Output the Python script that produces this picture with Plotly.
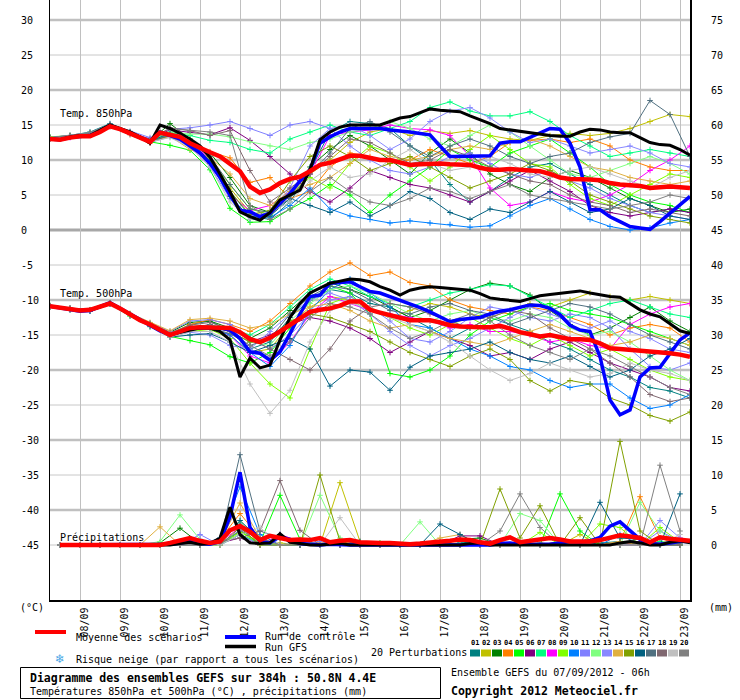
import plotly.graph_objects as go

# ---------------- time axes (hours after 07/09/2012 06h) ----------------
hours6 = list(range(0, 385, 6))      # main runs, 6-hourly
hours12 = list(range(0, 385, 12))    # perturbations, 12-hourly
hours_rr6 = list(range(6, 385, 6))   # precipitation main runs
hours_rr12 = list(range(6, 385, 12)) # precipitation perturbations

date_labels = ["08/09", "09/09", "10/09", "11/09", "12/09", "13/09", "14/09", "15/09",
               "16/09", "17/09", "18/09", "19/09", "20/09", "21/09", "22/09", "23/09"]
date_hours = [18 + 24 * k for k in range(16)]

left_ticks = [30, 25, 20, 15, 10, 5, 0, -5, -10, -15, -20, -25, -30, -35, -40, -45]
right_ticks = [75, 70, 65, 60, 55, 50, 45, 40, 35, 30, 25, 20, 15, 10, 5, 0]

# ---------------- main runs ----------------
mean_850 = [13.0, 12.9, 13.2, 13.4, 13.4, 14.0, 14.8, 14.4, 13.8, 13.2,
            12.6, 13.9, 13.6, 13.3, 12.4, 11.7, 11.1, 10.5, 9.4, 8.4,
            6.2, 5.3, 5.8, 6.7, 7.3, 7.6, 8.4, 9.3, 9.6, 10.1,
            10.6, 10.6, 10.3, 10.0, 10.0, 9.7, 9.3, 9.4, 9.5, 9.5,
            9.4, 9.4, 9.3, 8.9, 8.6, 8.6, 8.7, 8.6, 8.5, 8.4,
            8.0, 7.5, 7.3, 7.3, 7.2, 7.1, 6.7, 6.5, 6.4, 6.3,
            6.0, 6.1, 6.2, 6.1, 6.0]
gfs_850 = [13.0, 12.9, 13.3, 13.5, 13.5, 14.2, 15.0, 14.5, 14.0, 13.3,
           12.4, 15.0, 14.5, 13.8, 13.0, 12.0, 10.4, 8.0, 5.5, 2.6,
           1.9, 1.4, 2.5, 4.3, 5.0, 5.7, 8.6, 12.9, 14.0, 14.7,
           15.0, 15.0, 15.0, 15.0, 15.5, 16.0, 16.2, 16.8, 17.3, 17.1,
           17.0, 16.9, 16.3, 15.8, 15.2, 14.5, 14.3, 14.0, 13.8, 13.6,
           13.5, 13.4, 13.4, 14.0, 14.4, 14.3, 14.0, 13.9, 13.9, 13.2,
           12.5, 12.2, 12.1, 11.5, 10.7]
ctrl_850 = [13.0, 12.9, 13.2, 13.4, 13.5, 14.1, 14.9, 14.4, 13.8, 13.2,
            12.6, 14.0, 13.5, 13.0, 12.0, 11.0, 9.5, 7.5, 5.0, 2.8,
            2.6, 1.9, 2.4, 3.8, 5.2, 7.0, 8.6, 12.4, 13.3, 14.0,
            14.5, 14.5, 14.5, 14.5, 14.3, 14.2, 14.0, 13.8, 13.6, 12.0,
            10.5, 10.5, 10.5, 10.5, 10.6, 12.4, 12.6, 12.6, 13.2, 13.8,
            14.5, 14.4, 12.4, 9.0, 2.9, 2.9, 1.9, 1.2, 0.5, 0.3,
            0.1, 1.2, 2.4, 3.6, 4.8]

mean_500 = [-10.9, -11.1, -11.3, -11.5, -11.4, -11.0, -10.5, -11.2, -12.0, -12.9,
            -13.5, -14.2, -15.0, -14.5, -14.0, -13.9, -13.9, -13.9, -14.0, -14.6,
            -15.6, -16.0, -15.4, -14.5, -13.6, -12.7, -11.7, -11.4, -11.2, -10.8,
            -10.2, -10.2, -11.4, -11.8, -12.2, -12.6, -12.9, -12.9, -12.9, -13.2,
            -13.6, -13.8, -13.9, -13.9, -13.9, -13.7, -14.1, -14.6, -14.9, -15.2,
            -15.0, -15.3, -15.6, -15.6, -15.7, -16.2, -16.9, -17.0, -17.1, -17.2,
            -17.4, -17.5, -17.6, -17.8, -18.1]
gfs_500 = [-10.9, -11.1, -11.3, -11.5, -11.4, -11.0, -10.4, -11.2, -12.0, -12.9,
           -13.5, -14.3, -15.0, -14.6, -14.3, -14.0, -14.0, -14.5, -15.7, -21.0,
           -18.3, -19.7, -19.3, -15.7, -12.5, -10.5, -9.0, -8.3, -7.6, -7.3,
           -7.0, -7.1, -7.4, -8.1, -8.6, -9.3, -8.6, -8.3, -8.1, -8.2,
           -8.3, -8.4, -8.6, -9.1, -9.7, -9.9, -10.1, -10.2, -9.8, -9.4,
           -9.2, -9.0, -8.8, -8.7, -9.0, -9.3, -9.5, -9.6, -10.5, -11.4,
           -12.0, -12.4, -13.4, -14.4, -14.8]
ctrl_500 = [-10.9, -11.1, -11.4, -11.6, -11.5, -11.0, -10.4, -11.2, -12.0, -12.9,
            -13.6, -14.4, -15.0, -14.5, -14.1, -14.0, -14.0, -14.0, -14.3, -15.5,
            -17.4, -17.6, -18.6, -17.4, -14.8, -12.0, -9.5, -9.3, -7.6, -7.5,
            -7.4, -8.1, -8.8, -9.0, -9.5, -10.0, -10.5, -11.1, -11.7, -12.4,
            -13.1, -12.8, -12.6, -12.5, -12.0, -11.6, -11.4, -11.0, -10.7, -10.8,
            -11.2, -12.1, -13.6, -14.3, -14.5, -18.1, -24.3, -26.4, -25.7, -21.0,
            -19.7, -19.6, -17.6, -15.7, -14.7]

mean_rr = [0, 0, 0, 0, 0, 0, 0, 0, 0, 0,
           0, 0.3, 0.6, 1.0, 0.6, 0.3, 0.5, 2.1, 2.7, 1.9,
           0.7, 1.3, 1.0, 0.7, 0.8, 0.7, 1.0, 0.4, 0.6, 0.7,
           0.4, 0.3, 0.3, 0.3, 0.2, 0.1, 0.2, 0.3, 0.4, 0.6,
           0.8, 0.7, 0.4, 0.2, 0.7, 1.1, 0.4, 0.6, 0.8, 1.0,
           0.8, 0.5, 0.5, 0.5, 0.7, 1.0, 1.4, 1.2, 1.0, 0.4,
           1.1, 0.9, 0.7, 0.6]
ctrl_rr = [0, 0, 0, 0, 0, 0, 0, 0, 0, 0,
           0, 0.1, 0.3, 0.5, 0.2, 0.1, 0.5, 4.0, 10.4, 2.5,
           0.5, 0.3, 1.2, 0.8, 0.2, 0.1, 0, 0.1, 0, 0,
           0, 0, 0, 0, 0, 0, 0, 0, 0, 0,
           0, 0, 0, 0, 0.2, 0.3, 0.1, 0.1, 0.1, 0.1,
           0.3, 0.5, 0.4, 0.6, 1.1, 2.7, 3.3, 2.1, 0.8, 0.2,
           0.1, 0.3, 0.5, 0.5]
gfs_rr = [0, 0, 0, 0, 0, 0, 0, 0, 0, 0,
          0, 0, 0.2, 0.4, 0.1, 0.2, 1.0, 5.4, 1.5, 0.3,
          0.2, 0.3, 1.6, 0.4, 0.2, 0, 0, 0.1, 0.2, 0,
          0, 0, 0.1, 0, 0, 0, 0, 0, 0, 0,
          0, 0.2, 0.3, 0, 0, 0, 0, 0, 0, 0,
          0, 0, 0, 0, 0, 0, 0.3, 0.5, 0.3, 0,
          0, 0.4, 0.6, 0.3]

# ---------------- 20 perturbations ----------------
pert_names = ["01", "02", "03", "04", "05", "06", "07", "08", "09", "10",
              "11", "12", "13", "14", "15", "16", "17", "18", "19", "20"]
pert_colors = ["#008080", "#c0c000", "#008000", "#ff8000", "#00ff00", "#800080", "#00ff80",
               "#ff00ff", "#80ff00", "#0080ff", "#8080ff", "#80ff80", "#8888ff", "#e0b040",
               "#80a000", "#006080", "#507080", "#806870", "#c0c0c0", "#808080"]

t850_perts = [
    [13.2, 13.5, 14.0, 15.2, 14.0, 12.8, 14.0, 12.5, 10.0, 5.5, 2.0, 1.5, 4.0, 8.5, 14.0, 15.5, 15.2, 14.5, 12.0, 10.0, 6.5, 4.0, 5.5, 7.5, 9.0, 9.5, 8.0, 6.5, 5.0, 3.5, 2.5, 3.0, 2.5],
    [13.0, 13.3, 13.6, 14.8, 13.7, 12.5, 13.5, 12.0, 9.5, 6.0, 2.5, 2.0, 5.0, 8.0, 10.0, 12.5, 14.0, 14.5, 13.5, 14.2, 13.8, 14.2, 13.5, 13.0, 12.8, 13.5, 13.8, 13.5, 13.8, 14.5, 15.5, 16.5, 16.2],
    [13.1, 13.4, 13.7, 14.9, 13.9, 12.7, 15.2, 13.0, 11.0, 7.5, 3.5, 2.5, 5.0, 9.0, 11.5, 13.5, 12.0, 10.0, 8.0, 11.0, 13.0, 11.0, 8.0, 6.5, 5.5, 7.5, 8.5, 7.5, 6.0, 4.5, 3.5, 2.5, 3.0],
    [13.0, 13.3, 13.7, 14.8, 13.6, 12.4, 13.8, 12.8, 11.2, 10.3, 6.8, 7.5, 4.5, 5.5, 9.0, 11.0, 10.5, 9.5, 10.0, 11.5, 10.5, 9.5, 10.5, 12.5, 12.8, 13.0, 12.5, 13.0, 12.0, 10.0, 9.0, 8.5, 8.5],
    [13.2, 13.4, 13.8, 15.0, 13.8, 12.6, 12.1, 11.4, 8.6, 3.1, 1.1, 1.2, 3.0, 4.5, 6.5, 5.0, 2.5, 5.0, 7.0, 9.0, 11.5, 10.0, 9.0, 11.0, 12.0, 13.0, 11.0, 9.0, 6.5, 5.0, 4.0, 3.5, 2.5],
    [13.0, 13.3, 13.7, 14.9, 13.9, 13.0, 14.3, 14.0, 13.6, 14.6, 12.8, 10.5, 8.0, 5.5, 4.0, 6.0, 8.5, 7.5, 6.5, 6.0, 5.0, 4.0, 5.5, 7.0, 8.5, 7.0, 5.5, 3.5, 2.5, 2.0, 2.5, 3.0, 2.5],
    [13.1, 13.4, 13.8, 15.0, 13.9, 12.8, 13.9, 13.5, 12.8, 12.5, 11.5, 11.0, 13.0, 14.0, 15.0, 14.0, 13.5, 14.5, 15.5, 17.5, 18.3, 17.0, 16.3, 16.3, 16.9, 15.5, 13.5, 12.0, 10.5, 11.0, 11.5, 11.0, 10.5],
    [13.0, 13.2, 13.6, 14.8, 13.7, 12.5, 13.6, 12.5, 10.2, 5.0, 2.8, 3.5, 5.5, 8.0, 13.5, 14.0, 14.3, 15.0, 14.5, 14.3, 13.5, 10.5, 6.0, 3.5, 4.0, 5.5, 4.5, 4.0, 5.0, 6.5, 8.5, 10.0, 12.0],
    [13.3, 13.5, 13.9, 15.0, 14.0, 12.8, 13.5, 12.2, 10.0, 6.5, 3.0, 2.2, 5.0, 7.5, 6.0, 9.5, 12.0, 11.0, 9.0, 7.0, 9.0, 11.5, 13.5, 11.5, 9.5, 9.0, 6.5, 4.5, 3.5, 5.0, 6.5, 8.0, 7.5],
    [13.0, 13.3, 13.7, 14.9, 13.8, 12.6, 13.6, 12.4, 9.8, 4.5, 1.5, 1.8, 3.5, 6.0, 3.0, 2.0, 1.5, 1.0, 1.3, 1.0, 0.8, 0.4, 0.6, 2.0, 3.5, 4.5, 3.0, 1.5, 0.5, 0.0, 0.3, 1.0, 1.5],
    [13.2, 13.5, 13.9, 15.1, 14.1, 13.2, 14.4, 14.6, 15.0, 15.5, 14.5, 13.5, 15.0, 15.5, 14.5, 12.0, 10.0, 8.5, 8.0, 9.0, 10.5, 11.0, 9.5, 8.0, 7.5, 8.5, 7.0, 6.0, 4.5, 3.5, 2.5, 2.0, 1.5],
    [13.1, 13.4, 13.8, 14.9, 13.8, 12.7, 14.0, 13.7, 13.7, 13.3, 12.6, 12.0, 11.5, 12.5, 13.0, 14.0, 14.5, 15.5, 14.5, 13.0, 12.0, 13.5, 15.0, 14.0, 12.0, 10.0, 8.0, 7.5, 8.5, 9.5, 10.5, 9.5, 8.0],
    [13.0, 13.3, 13.6, 14.8, 13.7, 12.5, 13.3, 12.0, 9.0, 4.5, 2.0, 2.5, 6.0, 12.0, 14.5, 15.0, 13.5, 11.5, 13.0, 15.5, 17.0, 17.5, 16.0, 14.0, 12.5, 13.0, 12.0, 11.0, 11.5, 12.0, 11.0, 9.5, 9.0],
    [13.1, 13.4, 13.7, 14.9, 13.8, 12.6, 13.4, 11.5, 10.3, 8.0, 4.5, 3.5, 5.5, 6.5, 7.5, 9.5, 11.5, 10.5, 10.0, 10.5, 11.5, 12.0, 11.5, 12.5, 13.0, 12.0, 10.5, 9.0, 8.5, 7.5, 7.0, 6.5, 7.0],
    [13.0, 13.3, 13.7, 14.9, 13.8, 12.6, 13.5, 12.3, 9.6, 5.5, 2.2, 2.8, 7.0, 10.5, 12.0, 10.5, 8.5, 9.5, 10.5, 9.0, 7.5, 6.0, 7.0, 8.0, 9.5, 8.5, 7.0, 5.0, 4.0, 3.0, 2.0, 1.5, 1.0],
    [13.2, 13.4, 13.8, 15.0, 13.9, 12.7, 13.8, 12.6, 9.9, 4.8, 1.8, 2.0, 4.5, 3.5, 2.5, 4.0, 2.0, 3.5, 5.5, 4.5, 2.5, 1.5, 3.0, 2.5, 4.0, 5.5, 4.0, 2.5, 3.0, 4.5, 3.5, 2.0, 1.5],
    [13.0, 13.3, 13.7, 14.9, 13.8, 12.5, 13.6, 12.4, 10.5, 6.5, 3.0, 2.5, 4.5, 8.0, 11.0, 14.5, 15.5, 14.0, 12.0, 10.5, 12.0, 13.0, 12.0, 10.5, 9.5, 10.5, 11.0, 12.5, 13.3, 13.8, 18.5, 16.5, 10.5],
    [13.1, 13.4, 13.8, 15.0, 13.9, 12.9, 14.6, 14.2, 13.5, 14.2, 8.5, 4.0, 6.0, 8.0, 10.5, 13.0, 12.5, 11.0, 9.5, 10.0, 11.5, 10.5, 9.0, 8.0, 7.0, 6.5, 5.0, 4.0, 3.5, 2.5, 3.0, 2.5, 2.0],
    [13.0, 13.3, 13.6, 14.8, 13.7, 12.6, 13.2, 11.8, 9.0, 4.0, 1.5, 2.5, 4.0, 7.0, 9.0, 7.5, 8.0, 10.0, 11.5, 9.5, 8.5, 9.0, 10.5, 9.5, 8.0, 7.5, 8.5, 9.0, 8.0, 7.0, 6.0, 7.5, 8.5],
    [13.2, 13.5, 13.9, 15.1, 14.0, 12.8, 14.5, 14.2, 14.0, 13.5, 3.5, 1.5, 3.0, 5.5, 7.5, 5.5, 4.0, 3.5, 4.5, 6.0, 5.5, 4.5, 5.5, 6.5, 5.0, 4.5, 4.0, 3.5, 3.0, 3.5, 4.0, 5.0, 4.5],
]

t500_perts = [
    [-10.9, -11.2, -11.5, -10.4, -12.1, -13.4, -15.0, -13.5, -13.0, -14.5, -17.0, -16.0, -12.5, -10.0, -8.5, -9.0, -10.5, -11.0, -12.5, -14.0, -15.5, -14.0, -12.5, -13.5, -14.5, -16.0, -17.0, -18.5, -20.0, -21.0, -22.5, -23.0, -24.0],
    [-11.0, -11.3, -11.4, -10.5, -12.0, -13.5, -15.2, -14.2, -13.8, -15.0, -17.5, -17.0, -13.5, -11.0, -9.5, -10.0, -11.5, -12.5, -11.5, -10.5, -11.0, -12.0, -12.5, -11.5, -10.5, -11.0, -10.0, -9.0, -9.5, -10.0, -9.5, -10.0, -10.5],
    [-10.8, -11.2, -11.4, -10.4, -12.0, -13.3, -14.6, -13.2, -13.0, -14.0, -15.5, -14.0, -11.5, -9.0, -7.5, -8.5, -9.5, -11.0, -12.5, -11.5, -10.0, -8.5, -7.6, -8.0, -9.3, -11.5, -13.5, -15.0, -14.0, -12.5, -11.0, -13.0, -14.5],
    [-10.9, -11.3, -11.4, -10.5, -12.0, -13.4, -14.8, -13.5, -12.8, -13.5, -14.5, -13.0, -10.5, -8.0, -6.0, -4.7, -6.5, -6.0, -7.5, -8.0, -10.0, -11.0, -11.5, -12.0, -11.0, -11.5, -12.5, -13.5, -15.0, -14.0, -13.5, -14.0, -16.0],
    [-11.0, -11.4, -11.5, -10.6, -12.3, -13.8, -15.2, -15.8, -16.4, -18.1, -19.0, -17.5, -14.0, -10.0, -8.0, -9.0, -12.0, -20.5, -21.0, -20.0, -18.0, -15.0, -13.0, -12.0, -11.0, -10.5, -11.5, -12.0, -12.5, -13.5, -14.5, -15.5, -16.5],
    [-10.9, -11.2, -11.4, -10.5, -12.1, -13.6, -15.1, -14.0, -13.5, -14.5, -16.0, -15.0, -13.5, -12.5, -13.0, -14.0, -15.5, -17.5, -16.0, -14.5, -15.5, -16.5, -18.0, -17.5, -18.5, -17.0, -16.0, -17.5, -19.0, -20.0, -21.0, -22.5, -23.0],
    [-10.9, -11.3, -11.4, -10.4, -12.0, -13.4, -14.8, -13.8, -13.6, -14.0, -15.0, -13.5, -11.0, -8.5, -7.0, -8.0, -9.5, -10.5, -11.0, -10.0, -9.0, -8.5, -7.8, -8.0, -9.5, -11.0, -12.5, -11.5, -10.5, -10.0, -11.0, -12.0, -12.5],
    [-10.9, -11.3, -11.5, -10.5, -12.1, -13.5, -15.0, -14.2, -14.0, -15.0, -18.0, -19.0, -16.0, -12.0, -9.5, -10.5, -11.5, -12.0, -12.5, -13.0, -14.0, -13.5, -14.5, -14.5, -15.0, -16.0, -15.5, -16.5, -17.0, -13.5, -12.0, -11.0, -10.5],
    [-11.0, -11.3, -11.5, -10.6, -12.2, -13.7, -15.3, -14.5, -14.2, -15.5, -19.0, -22.0, -24.0, -17.0, -10.5, -9.5, -11.0, -12.5, -14.0, -15.0, -13.5, -12.5, -14.0, -15.5, -16.5, -15.0, -16.5, -18.0, -17.0, -18.5, -20.0, -21.0, -21.5],
    [-10.9, -11.3, -11.6, -10.6, -12.2, -13.6, -15.2, -14.3, -14.0, -15.0, -17.5, -19.5, -16.5, -11.5, -8.5, -7.0, -9.0, -11.0, -13.5, -14.0, -15.5, -17.0, -18.0, -19.5, -20.0, -21.5, -22.5, -22.0, -22.0, -24.0, -25.5, -25.0, -23.5],
    [-10.8, -11.2, -11.4, -10.4, -12.0, -13.3, -14.5, -13.0, -12.8, -13.5, -15.5, -17.0, -15.0, -12.0, -10.0, -9.5, -11.0, -13.0, -15.5, -16.0, -14.5, -12.5, -11.0, -11.5, -12.5, -13.0, -12.0, -12.5, -14.0, -17.0, -19.5, -20.0, -19.0],
    [-10.9, -11.3, -11.4, -10.5, -12.0, -13.4, -14.9, -14.0, -13.7, -14.5, -16.0, -16.5, -13.0, -10.5, -8.5, -8.0, -9.0, -10.5, -12.0, -13.0, -12.0, -11.5, -12.5, -13.0, -12.0, -12.5, -14.0, -15.0, -14.5, -16.0, -18.0, -20.0, -21.5],
    [-11.0, -11.4, -11.5, -10.5, -12.2, -13.7, -15.2, -14.6, -15.0, -16.5, -17.0, -14.5, -12.0, -10.0, -9.0, -10.0, -12.0, -14.5, -16.5, -18.0, -16.5, -15.5, -14.0, -12.5, -11.0, -12.0, -13.0, -14.0, -13.0, -14.5, -15.5, -17.0, -17.5],
    [-10.8, -11.2, -11.4, -10.4, -11.9, -13.2, -14.4, -12.8, -12.6, -13.0, -14.0, -13.5, -12.0, -11.0, -10.5, -11.5, -13.0, -14.0, -13.5, -14.5, -15.5, -16.0, -16.5, -15.5, -14.5, -13.5, -14.5, -15.5, -16.5, -16.0, -15.0, -15.5, -16.5],
    [-10.9, -11.3, -11.4, -10.5, -12.1, -13.5, -15.0, -14.0, -13.8, -14.5, -16.0, -15.5, -13.0, -12.0, -12.5, -13.5, -14.5, -16.0, -17.5, -18.5, -19.5, -18.0, -17.0, -18.5, -21.5, -23.0, -21.5, -22.0, -24.0, -25.0, -26.5, -27.3, -26.0],
    [-11.0, -11.4, -11.6, -10.6, -12.2, -13.8, -15.3, -15.0, -14.8, -16.0, -17.5, -16.5, -15.5, -17.0, -22.3, -20.0, -20.3, -22.9, -19.6, -18.0, -17.5, -17.0, -16.0, -17.5, -18.5, -19.0, -18.0, -19.5, -21.0, -20.0, -18.0, -17.0, -15.5],
    [-10.9, -11.3, -11.5, -10.5, -12.1, -13.5, -15.0, -14.2, -14.0, -14.8, -16.5, -15.5, -12.0, -9.5, -8.0, -8.5, -10.0, -11.5, -12.0, -11.0, -10.5, -11.5, -12.0, -13.5, -12.5, -11.5, -10.5, -11.0, -12.0, -13.5, -15.0, -16.0, -17.0],
    [-10.9, -11.2, -11.4, -10.4, -12.0, -13.4, -14.7, -13.6, -13.2, -14.2, -15.5, -17.0, -18.5, -20.0, -17.0, -13.0, -11.0, -10.5, -11.0, -12.0, -13.0, -14.0, -12.5, -11.5, -12.0, -14.0, -15.5, -17.0, -19.0, -21.0, -23.5, -24.5, -24.0],
    [-11.0, -11.4, -11.5, -10.6, -12.2, -13.7, -15.3, -14.5, -14.5, -16.0, -22.0, -26.2, -22.9, -16.0, -11.5, -10.5, -11.0, -12.5, -13.5, -14.5, -16.0, -18.0, -20.0, -21.5, -20.5, -19.0, -20.0, -21.0, -20.5, -19.0, -20.0, -20.5, -21.5],
    [-10.9, -11.3, -11.5, -10.5, -12.1, -13.5, -15.0, -14.0, -13.6, -14.5, -16.5, -18.0, -16.0, -12.5, -10.5, -11.0, -12.0, -14.0, -15.5, -14.5, -13.0, -12.0, -13.0, -15.0, -16.5, -17.5, -18.5, -17.0, -18.0, -19.5, -21.0, -22.5, -23.5],
]

rr_perts = [
    [0, 0, 0, 0, 0, 0, 0.3, 0, 0.5, 3.0, 0.5, 0, 0, 0.5, 0, 0, 0, 0, 0, 0, 0.3, 0.5, 0, 0, 0, 0, 0, 0.3, 0.5, 0, 0, 0],
    [0, 0, 0, 0, 0, 0, 0, 0, 0.2, 2.0, 0, 0.3, 0, 0, 8.9, 0.5, 0, 0, 0, 0, 0, 0, 0, 0, 0.3, 0, 1.5, 0, 0, 0, 0.4, 0.6],
    [0, 0, 0, 0, 0, 0.3, 2.4, 0.2, 0, 1.5, 0, 0, 0.5, 0, 0, 0, 0, 0, 0, 0, 0.8, 1.0, 0, 0, 0, 0, 0, 0, 0, 1.0, 0, 0.3],
    [0, 0, 0, 0, 0, 0, 0, 0, 0.8, 4.5, 1.0, 0, 0, 0.3, 0, 0, 0, 0, 0, 0, 0, 0, 0, 0, 0, 0, 0, 0, 0.5, 6.9, 1.0, 0],
    [0, 0, 0, 0, 0, 0, 0.5, 0, 0, 2.0, 0.3, 7.1, 0.8, 0, 0, 0, 0.3, 0, 0, 0, 0, 0, 0, 0, 0, 7.3, 2.0, 0, 0, 0.5, 0, 0],
    [0, 0, 0, 0, 0, 0, 0, 0, 0.3, 1.0, 0, 0, 0, 0, 0.8, 0, 0, 0, 0, 0, 1.3, 1.3, 0, 0, 0, 0, 0, 0, 0, 0.5, 0, 0.9],
    [0, 0, 0, 0, 0, 0, 0.2, 0, 0, 1.5, 0.3, 0, 0, 0, 0, 0, 0, 0, 0, 0, 0, 0, 0.3, 0, 0, 0, 0, 0, 0, 0, 0.5, 0],
    [0, 0, 0, 0, 0, 0, 0, 0, 0.4, 2.5, 0, 1.5, 0.5, 0, 0, 0, 0, 0, 0, 0, 0, 0, 0, 0.3, 0, 0, 0, 0, 0, 0, 0, 1.0],
    [0, 0, 0, 0, 0, 0, 0, 0, 0, 1.8, 0.5, 0, 0, 0, 0, 0, 0, 0, 0, 0, 0, 0, 0, 0, 1.8, 0, 0, 3.0, 2.5, 0, 2.5, 0.4],
    [0, 0, 0, 0, 0, 0, 0, 0, 1.0, 8.3, 1.5, 0, 0, 0, 0, 0, 0, 0, 0, 0.5, 0, 0, 0.5, 0, 0, 0, 0.3, 0, 1.5, 0, 0, 0],
    [0, 0, 0, 0, 0, 0, 0, 1.5, 0, 2.2, 1.0, 0, 0, 0.5, 0, 0, 0, 0, 0, 0, 0, 0, 0, 0, 0, 0, 0, 0, 0, 0, 2.0, 0.5],
    [0, 0, 0, 0, 0, 0.5, 4.3, 0.8, 0, 3.5, 0, 0, 0, 7.1, 1.0, 0, 0, 0, 3.3, 0, 0, 0, 0, 4.5, 3.5, 0, 0, 0, 0, 6.1, 2.0, 0],
    [0, 0, 0, 0, 0, 0, 0, 0.8, 0, 1.5, 0, 0, 0, 0, 0, 0, 0, 0, 0, 0.6, 0, 0, 0, 0, 0, 0, 0, 0, 0, 0, 3.5, 1.0],
    [0, 0, 0, 0, 0, 2.6, 0, 0, 0.5, 6.0, 1.0, 0, 0.3, 0, 0, 0, 0, 0, 0, 1.0, 1.5, 0, 0, 0, 0, 0.5, 0, 0, 0.5, 0, 0, 0],
    [0, 0, 0, 0, 0, 0, 0, 0, 0, 2.5, 0, 0, 0, 10.0, 0.5, 0, 0, 0, 0, 0, 0, 0, 8.0, 1.0, 5.6, 0, 3.9, 0, 14.8, 2.0, 0, 0.3],
    [0, 0, 0, 0, 0, 0, 0, 0, 0.3, 3.5, 0.8, 1.5, 0, 0, 0, 0.5, 0, 0, 0, 3.0, 1.5, 0, 0, 0, 0, 0, 0, 6.1, 1.0, 0.8, 0, 7.3],
    [0, 0, 0, 0, 0, 0, 0, 0, 0.5, 12.9, 2.0, 1.0, 0, 0, 0, 0, 0, 0, 0, 0, 0, 0.5, 0, 0, 0, 0, 0, 0, 0, 1.0, 0, 0],
    [0, 0, 0, 0, 0, 0, 0, 0, 0.5, 1.0, 2.0, 9.2, 2.1, 0, 0, 0, 0, 0, 0, 0, 0, 0, 0, 0, 0, 0.5, 0, 0, 0, 0, 0, 0],
    [0, 0, 0, 0, 0, 0, 0, 0, 0, 1.5, 2.5, 0, 0.5, 0, 3.9, 0, 0, 0, 0, 0, 0, 0, 0, 0.5, 0, 0, 0, 0, 0, 0, 0, 1.5],
    [0, 0, 0, 0, 0, 0, 0, 0, 0.3, 2.0, 1.0, 0, 0, 0, 0, 0, 0, 0, 0, 0, 0, 0, 2.0, 7.3, 2.5, 0, 0, 0, 0, 0, 11.4, 2.0],
]

for s in [mean_850, gfs_850, ctrl_850, mean_500, gfs_500, ctrl_500]:
    assert len(s) == len(hours6)
for s in [mean_rr, ctrl_rr, gfs_rr]:
    assert len(s) == len(hours_rr6)
for s in t850_perts + t500_perts:
    assert len(s) == len(hours12)
for s in rr_perts:
    assert len(s) == len(hours_rr12)

# ---------------- pixel helpers for the frame (layout only) ----------------
PL, PR, PT, PB = 50, 690, 0, 600
def px(x):
    return (x - PL) / (PR - PL)
def py(y):
    return (PB - y) / (PB - PT)

MONO = "DejaVu Sans Mono"
fig = go.Figure()

def pert_trace(xv, yv, color, yaxis="y"):
    return go.Scatter(x=xv, y=yv, mode="lines+markers", yaxis=yaxis,
                      line=dict(color=color, width=1),
                      marker=dict(symbol="cross-thin", size=4, line=dict(width=1, color=color)),
                      hoverinfo="skip", showlegend=False)

for c, s in zip(pert_colors, t850_perts):
    fig.add_trace(pert_trace(hours12, s, c))
for c, s in zip(pert_colors, t500_perts):
    fig.add_trace(pert_trace(hours12, s, c))
for c, s in zip(pert_colors, rr_perts):
    fig.add_trace(pert_trace(hours_rr12, s, c, "y2"))

def main_trace(xv, yv, color, width, yaxis="y"):
    return go.Scatter(x=xv, y=yv, mode="lines", yaxis=yaxis,
                      line=dict(color=color, width=width),
                      hoverinfo="skip", showlegend=False)

fig.add_trace(main_trace(hours6, ctrl_850, "#0000ff", 3.5))
fig.add_trace(main_trace(hours6, ctrl_500, "#0000ff", 3.5))
fig.add_trace(main_trace(hours_rr6, ctrl_rr, "#0000ff", 3.5, "y2"))
fig.add_trace(main_trace(hours6, gfs_850, "#000000", 3))
fig.add_trace(main_trace(hours6, gfs_500, "#000000", 3))
fig.add_trace(main_trace(hours_rr6, gfs_rr, "#000000", 3, "y2"))
fig.add_trace(main_trace(hours6, mean_850, "#ff0000", 4.5))
fig.add_trace(main_trace(hours6, mean_500, "#ff0000", 4.5))
fig.add_trace(main_trace(hours_rr6, mean_rr, "#ff0000", 4.5, "y2"))

shapes = []
# horizontal grid lines
for v in left_ticks:
    if v == 0:
        col, w = "#a8a8a8", 3
    elif v % 10 == 0:
        col, w = "#c0c0c0", 2.5
    else:
        col, w = "#c8c8c8", 1
    shapes.append(dict(type="line", xref="paper", yref="y", x0=0, x1=1, y0=v, y1=v,
                       line=dict(color=col, width=w), layer="below"))

# legend line samples
shapes.append(dict(type="line", xref="paper", yref="paper", x0=px(35), x1=px(66), y0=py(632), y1=py(632),
                   line=dict(color="#ff0000", width=4)))
shapes.append(dict(type="line", xref="paper", yref="paper", x0=px(225), x1=px(256), y0=py(637), y1=py(637),
                   line=dict(color="#0000ff", width=4)))
shapes.append(dict(type="line", xref="paper", yref="paper", x0=px(225), x1=px(256), y0=py(646.5), y1=py(646.5),
                   line=dict(color="#000000", width=3.5)))
# title box
shapes.append(dict(type="rect", xref="paper", yref="paper", x0=px(20.5), x1=px(440.5), y0=py(667.5), y1=py(698.5),
                   line=dict(color="#000000", width=1), fillcolor="rgba(0,0,0,0)"))
# perturbation colour squares
for i, c in enumerate(pert_colors):
    x0 = 470 + 11 * i
    shapes.append(dict(type="rect", xref="paper", yref="paper", x0=px(x0), x1=px(x0 + 10), y0=py(656.5), y1=py(649.5),
                       line=dict(width=0), fillcolor=c))

ann = []
def text(x, y, s, size=10, color="black", xanchor="left", bold=False, font=MONO):
    ann.append(dict(xref="paper", yref="paper", x=px(x), y=py(y), text=("<b>%s</b>" % s) if bold else s,
                    showarrow=False, xanchor=xanchor, yanchor="middle", borderpad=0,
                    font=dict(family=font, size=size, color=color)))

for v in left_ticks:
    ann.append(dict(xref="paper", yref="y", x=px(20), y=v, text=str(v), showarrow=False,
                    xanchor="left", yanchor="middle", borderpad=0,
                    font=dict(family=MONO, size=10, color="black")))
for v in right_ticks:
    ann.append(dict(xref="paper", yref="y2", x=px(710), y=v, text=str(v), showarrow=False,
                    xanchor="left", yanchor="middle", borderpad=0,
                    font=dict(family=MONO, size=10, color="black")))

text(59, 113, "Temp. 850hPa")
text(59, 293, "Temp. 500hPa")
text(59, 537, "Précipitations")
text(19, 607, "(°C)")
text(708, 607, "(mm)")
text(75, 637, "Moyenne des scénarios")
text(264, 636, "Run de contrôle")
text(264, 647, "Run GFS")
text(60, 659, "❄", size=12, color="#4aa8e6", xanchor="center", font="DejaVu Sans")
text(75, 659, "Risque neige (par rapport a tous les scénarios)")
text(29, 677.5, "Diagramme des ensembles GEFS sur 384h : 50.8N 4.4E", size=11.5, bold=True)
text(29, 691, "Températures 850hPa et 500hPa (°C) , précipitations (mm)")
text(450, 672, "Ensemble GEFS du 07/09/2012 - 06h")
text(450, 691, "Copyright 2012 Meteociel.fr", size=11.5, bold=True)
text(370, 652, "20 Perturbations")
for i, n in enumerate(pert_names):
    text(470 + 11 * i + 5, 643, n, size=7, xanchor="center", bold=True)

fig.update_layout(
    width=740, height=700,
    margin=dict(l=PL, r=740 - PR, t=PT, b=700 - PB, pad=0),
    paper_bgcolor="white", plot_bgcolor="white", showlegend=False,
    hovermode=False,
    xaxis=dict(range=[0, 384], tickvals=date_hours, ticktext=date_labels, tickangle=-90,
               showgrid=True, gridcolor="#c0c0c0", gridwidth=1, zeroline=False,
               showline=True, linecolor="black", linewidth=1.5, ticks="",
               ticklabelshift=5, ticklabelstandoff=2,
               tickfont=dict(family=MONO, size=10, color="black")),
    yaxis=dict(range=[-52.857, 32.857], showgrid=False, zeroline=False, showticklabels=False,
               ticks="", showline=True, mirror=True, linecolor="black", linewidth=1.5),
    yaxis2=dict(range=[-7.857, 77.857], overlaying="y", showgrid=False, zeroline=False,
                showticklabels=False, ticks="", showline=False, visible=False),
    shapes=shapes, annotations=ann,
)

# remove the browser's default 8px page margin so the figure sits at the window's corner
fig.write_html("out.html",
               config={"displayModeBar": False, "staticPlot": True},
               post_script="document.body.style.margin='0';document.body.style.padding='0';")
